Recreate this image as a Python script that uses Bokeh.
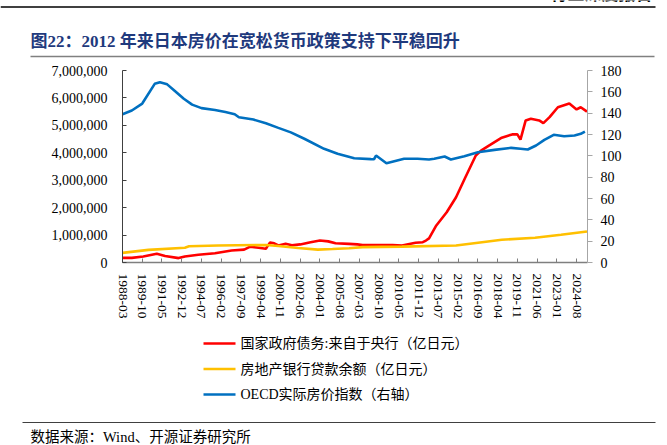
from bokeh.plotting import figure
from bokeh.models import Range1d, LinearAxis, FixedTicker, NumeralTickFormatter
from bokeh.core.properties import value
from bokeh.layouts import column
from bokeh.embed import file_html
from bokeh.resources import INLINE

# ---------------- data ----------------
tick_labels = ["1988-03", "1989-10", "1991-05", "1992-12", "1994-07", "1996-02",
               "1997-09", "1999-04", "2000-11", "2002-06", "2004-01", "2005-08",
               "2007-03", "2008-10", "2010-05", "2011-12", "2013-07", "2015-02",
               "2016-09", "2018-04", "2019-11", "2021-06", "2023-01", "2024-08"]

red_dates = ["1988-03", "1988-12", "1989-11", "1990-12", "1991-08", "1992-09", "1993-03",
             "1994-04", "1995-08", "1996-12", "1997-12", "1998-06", "1999-02", "1999-09",
             "1999-10", "2000-01", "2000-05", "2000-09", "2001-04", "2001-10", "2002-06",
             "2003-04", "2004-01", "2004-09", "2005-04", "2006-05", "2007-01", "2007-06",
             "2008-10", "2009-11", "2010-08", "2011-09", "2012-04", "2012-07", "2012-10",
             "2013-05", "2014-03", "2014-12", "2015-09", "2016-07", "2016-12", "2017-08",
             "2018-08", "2019-06", "2019-11", "2020-02", "2020-07", "2020-12", "2021-08",
             "2021-12", "2022-06", "2023-02", "2024-01", "2024-08", "2024-12", "2025-06"]
red_values = [170000, 170000, 220000, 320000, 240000, 160000, 220000,
              280000, 340000, 440000, 470000, 580000, 540000, 500000,
              560000, 730000, 700000, 620000, 680000, 630000, 660000,
              740000, 800000, 770000, 700000, 680000, 660000, 640000,
              640000, 640000, 620000, 720000, 740000, 800000, 880000,
              1350000, 1830000, 2380000, 3110000, 3900000, 4080000, 4270000,
              4550000, 4670000, 4670000, 4480000, 5180000, 5240000, 5180000,
              5080000, 5300000, 5660000, 5800000, 5580000, 5660000, 5500000]

yellow_dates = ["1988-03", "1990-04", "1993-03", "1993-07", "1995-11", "1999-09",
                "2000-09", "2002-04", "2003-11", "2005-01", "2006-05", "2007-06",
                "2010-08", "2014-12", "2017-01", "2018-08", "2021-04", "2023-05", "2025-06"]
yellow_values = [350000, 460000, 540000, 590000, 620000, 640000,
                 600000, 530000, 470000, 490000, 520000, 560000,
                 580000, 620000, 740000, 830000, 900000, 1010000, 1130000]

blue_dates = ["1988-03", "1988-12", "1989-10", "1990-10", "1991-03", "1991-10", "1992-04",
              "1993-02", "1993-10", "1994-07", "1995-08", "1996-06", "1997-03", "1997-07",
              "1998-09", "1999-09", "2000-09", "2001-09", "2002-10", "2004-05", "2005-06",
              "2006-10", "2008-02", "2008-05", "2008-07", "2009-05", "2010-10", "2011-11",
              "2012-10", "2013-03", "2014-01", "2014-07", "2015-08", "2016-09", "2018-01",
              "2019-05", "2020-02", "2020-09", "2021-05", "2022-01", "2022-10", "2023-08",
              "2024-06", "2024-12", "2025-04"]
blue_values = [139, 142.5, 149, 167.5, 169, 167, 162,
               153.5, 148, 144.7, 143, 141, 139, 136.2,
               134, 130.5, 126.2, 122, 116, 106.6, 102,
               97.8, 96.9, 96.8, 100.3, 93.1, 97.2, 97.2,
               96.6, 97.2, 99.4, 96.6, 99.7, 103.4, 105.6,
               107.5, 106.6, 105.9, 109.7, 115, 119.7, 118.4,
               119, 120.6, 122.8]

series_names = ["国家政府债务:来自于央行（亿日元）", "房地产银行贷款余额（亿日元）", "OECD实际房价指数（右轴）"]
series_colors = ["#FF0000", "#FFC000", "#0070C0"]
title_text = "图22：2012 年来日本房价在宽松货币政策支持下平稳回升"
source_text = "数据来源：Wind、开源证券研究所"
header_text = "行业深度报告"


def month_index(s):
    y, m = map(int, s.split("-"))
    return (y * 12 + m - 1) - (1988 * 12 + 2)


W = 667
SERIF = "Liberation Serif, Noto Sans CJK SC"
CJK = "Noto Sans CJK SC"


def deco_fig(y_top, y_bot):
    # plain figure whose data units equal page pixels (x right, y down)
    f = figure(width=W, height=y_bot - y_top, output_backend="svg", toolbar_location=None,
               x_range=Range1d(0, W), y_range=Range1d(y_bot, y_top),
               x_axis_type=None, y_axis_type=None, min_border=0, frame_align=False)
    f.xgrid.visible = False
    f.ygrid.visible = False
    f.outline_line_color = None
    f.background_fill_color = "white"
    f.border_fill_color = "white"
    return f


# ---------------- top: header and title ----------------
top = deco_fig(0, 58)
top.text(x=[652], y=[4.5], text=[header_text], text_align="right", text_baseline="bottom",
         text_font=value(CJK), text_font_size=value("17px"), text_font_style=value("bold"),
         text_color="#000000")
top.segment(x0=[0], y0=[6.5], x1=[655], y1=[6.5], line_color="#000000", line_width=1.5)
top.text(x=[30], y=[41], text=[title_text], text_align="left", text_baseline="middle",
         text_font=value(SERIF), text_font_size=value("17px"), text_font_style=value("bold"),
         text_color="#1F3A7D")
top.segment(x0=[30], y0=[56], x1=[654], y1=[56], line_color="#808080", line_width=1.5)

# ---------------- main chart ----------------
MT, MB = 58, 325          # page y range of the main figure
FL, FW = 122, 465         # frame left and width (page px)
FT, FH = 12, 192          # frame top (fig px) and height
p = figure(width=W, height=MB - MT, output_backend="svg", toolbar_location=None,
           x_range=Range1d(0, 447.5), y_range=Range1d(0, 7000000),
           min_border_left=FL, min_border_top=FT, frame_align=False,
           min_border_right=W - FL - FW, min_border_bottom=(MB - MT) - FT - FH)
p.extra_y_ranges = {"r": Range1d(0, 180)}
p.xgrid.visible = False
p.ygrid.visible = False
p.outline_line_color = None
p.background_fill_color = "white"
p.border_fill_color = "white"

p.line([month_index(d) for d in red_dates], red_values,
       line_color=series_colors[0], line_width=2.6)
p.line([month_index(d) for d in yellow_dates], yellow_values,
       line_color=series_colors[1], line_width=2.6)
p.line([month_index(d) for d in blue_dates], blue_values,
       line_color=series_colors[2], line_width=2.6, y_range_name="r")

xa = p.xaxis[0]
ticks = [month_index(t) for t in tick_labels]
xa.ticker = FixedTicker(ticks=ticks)
xa.major_label_overrides = {t: l for t, l in zip(ticks, tick_labels)}
xa.major_label_orientation = "vertical"
xa.minor_tick_line_color = None
xa.major_tick_in = 4
xa.major_tick_out = 0
xa.axis_line_color = "#7f7f7f"
xa.axis_line_width = 1.5
xa.major_tick_line_color = "#7f7f7f"
xa.major_label_text_font = SERIF
xa.major_label_text_font_size = "13.5px"
xa.major_label_text_color = "black"
xa.major_label_standoff = 11

ya = p.yaxis[0]
ya.ticker = FixedTicker(ticks=[i * 1000000 for i in range(8)])
ya.formatter = NumeralTickFormatter(format="0,0")
ya.minor_tick_line_color = None
ya.major_tick_in = 4
ya.major_tick_out = 0
ya.axis_line_color = "#404040"
ya.major_tick_line_color = "#404040"
ya.major_label_text_font = SERIF
ya.major_label_text_font_size = "14px"
ya.major_label_text_color = "black"
ya.major_label_standoff = 15

ra = LinearAxis(y_range_name="r", ticker=FixedTicker(ticks=list(range(0, 181, 20))))
ra.minor_tick_line_color = None
ra.major_tick_in = 0
ra.major_tick_out = 5
ra.axis_line_color = "#a6a6a6"
ra.major_tick_line_color = "#a6a6a6"
ra.major_label_text_font = SERIF
ra.major_label_text_font_size = "14px"
ra.major_label_text_color = "black"
ra.major_label_standoff = 8
p.add_layout(ra, "right")

# ---------------- bottom: legend and source ----------------
bot = deco_fig(MB, 445)
leg_y = [343, 368.5, 394]
bot.segment(x0=[203] * 3, y0=leg_y, x1=[235] * 3, y1=leg_y,
            line_color=series_colors, line_width=2.6)
bot.text(x=[240] * 3, y=leg_y, text=series_names, text_align="left", text_baseline="middle",
         text_font=value(SERIF), text_font_size=value("14px"), text_color="#000000")
bot.segment(x0=[22], y0=[422], x1=[655], y1=[422], line_color="#404040", line_width=1.2)
bot.text(x=[30], y=[436], text=[source_text], text_align="left", text_baseline="middle",
         text_font=value(SERIF), text_font_size=value("14.5px"), text_color="#000000")

layout = column(top, p, bot, spacing=0)
open("out.html", "w").write(file_html(layout, INLINE))
